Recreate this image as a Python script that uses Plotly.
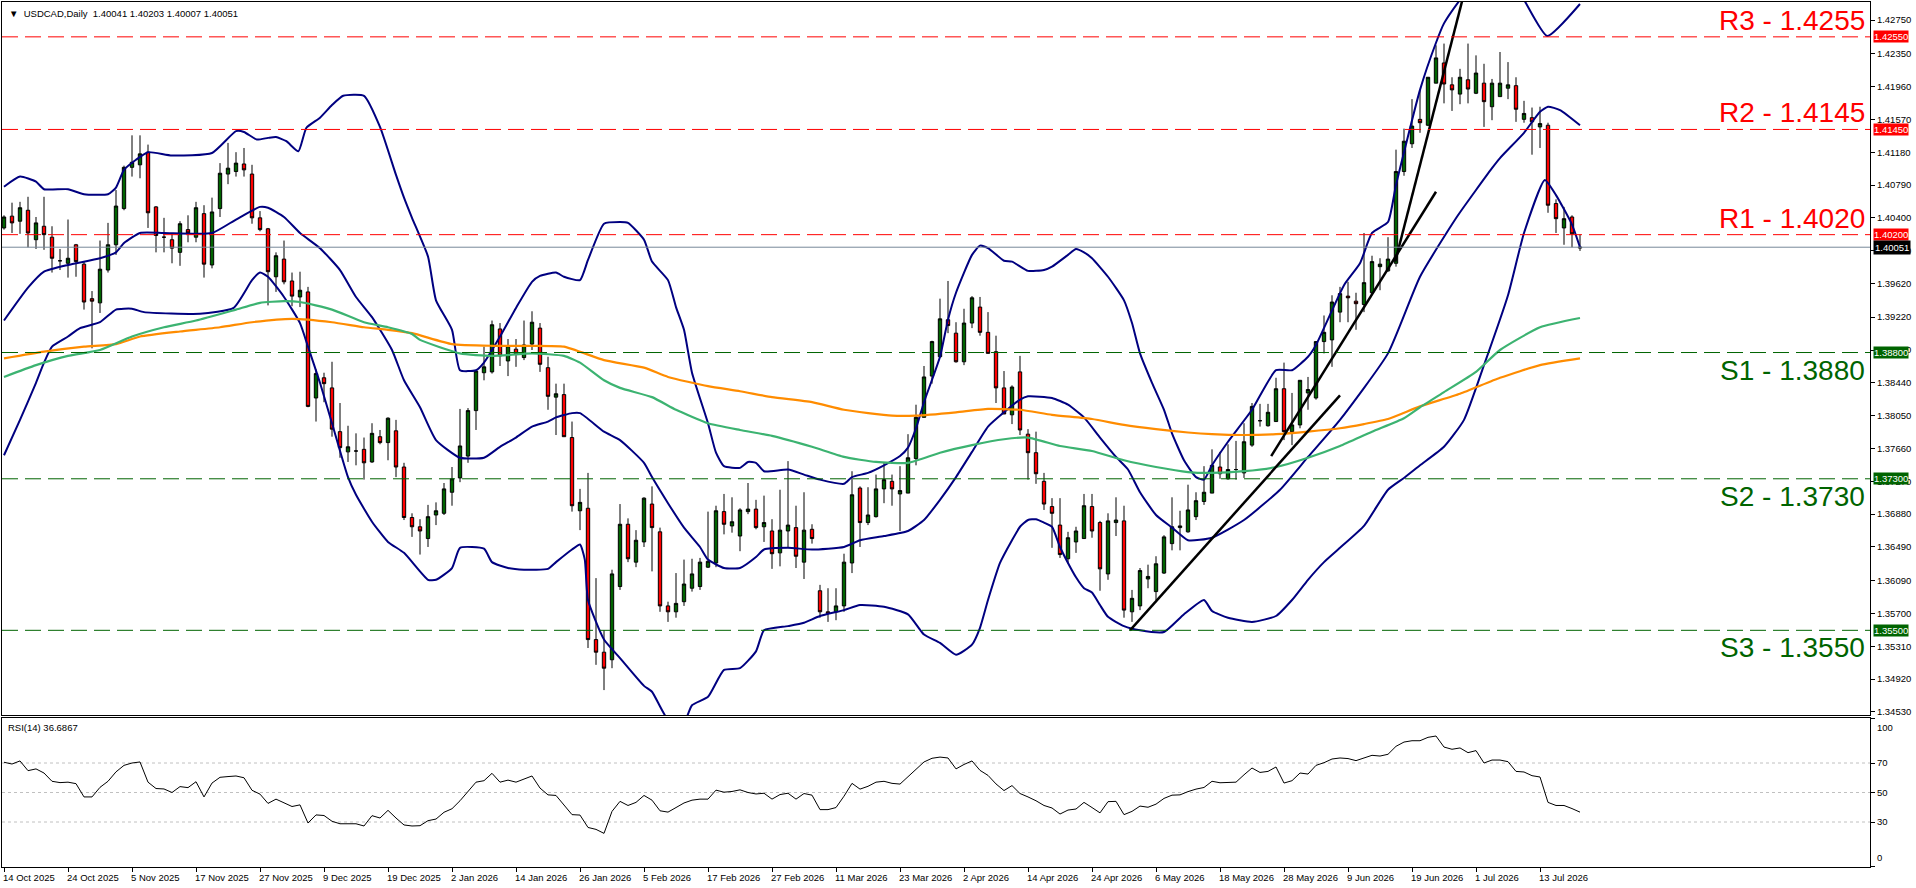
import plotly.graph_objects as go

# ---- daily USDCAD bars (index 0 = 14 Oct 2025) ----
bar_open = [1.4028, 1.4042, 1.4036, 1.4049, 1.4014, 1.4030, 1.4017, 1.3989, 1.3986, 1.4008,
            1.3985, 1.3944, 1.3939, 1.3978, 1.4008, 1.4051, 1.4100, 1.4103, 1.4118, 1.4053,
            1.4017, 1.4014, 1.3999, 1.4026, 1.4017, 1.4045, 1.3984, 1.4051, 1.4092, 1.4095,
            1.4104, 1.4092, 1.4040, 1.4027, 1.3970, 1.3991, 1.3965, 1.3946, 1.3952, 1.3826,
            1.3850, 1.3838, 1.3786, 1.3762, 1.3763, 1.3765, 1.3750, 1.3780, 1.3773, 1.3787,
            1.3744, 1.3684, 1.3673, 1.3659, 1.3687, 1.3689, 1.3714, 1.3731, 1.3757, 1.3811,
            1.3856, 1.3857, 1.3908, 1.3870, 1.3884, 1.3874, 1.3890, 1.3909, 1.3862, 1.3827,
            1.3830, 1.3779, 1.3692, 1.3695, 1.3539, 1.3524, 1.3515, 1.3602, 1.3676, 1.3631,
            1.3655, 1.3700, 1.3667, 1.3579, 1.3572, 1.3584, 1.3600, 1.3602, 1.3625, 1.3630,
            1.3691, 1.3674, 1.3662, 1.3691, 1.3694, 1.3673, 1.3668, 1.3642, 1.3668, 1.3672,
            1.3631, 1.3670, 1.3597, 1.3572, 1.3572, 1.3579, 1.3630, 1.3719, 1.3678, 1.3685,
            1.3718, 1.3727, 1.3712, 1.3713, 1.3754, 1.3803, 1.3852, 1.3875, 1.3919, 1.3903,
            1.3869, 1.3915, 1.3934, 1.3904, 1.3881, 1.3838, 1.3806, 1.3857, 1.3783, 1.3761,
            1.3727, 1.3697, 1.3675, 1.3635, 1.3655, 1.3659, 1.3697, 1.3678, 1.3617, 1.3678,
            1.3680, 1.3572, 1.3579, 1.3611, 1.3596, 1.3618, 1.3653, 1.3672, 1.3667, 1.3685,
            1.3703, 1.3713, 1.3744, 1.3730, 1.3741, 1.3737, 1.3770, 1.3799, 1.3793, 1.3798,
            1.3837, 1.3786, 1.3794, 1.3832, 1.3826, 1.3893, 1.3895, 1.3928, 1.3947, 1.3941,
            1.3937, 1.3951, 1.3982, 1.3977, 1.3986, 1.4095, 1.4128, 1.4157, 1.4150, 1.4200,
            1.4224, 1.4198, 1.4187, 1.4204, 1.4188, 1.4200, 1.4172, 1.4184, 1.4194, 1.4197,
            1.4157, 1.4159, 1.4148, 1.4150, 1.4057, 1.4028, 1.4041, 1.40041]
bar_high = [1.4043, 1.4058, 1.4059, 1.4065, 1.4041, 1.4065, 1.4030, 1.4003, 1.4038, 1.4009,
            1.3988, 1.3953, 1.4013, 1.4034, 1.4073, 1.4102, 1.4138, 1.4138, 1.4127, 1.4054,
            1.4040, 1.4022, 1.4036, 1.4043, 1.4059, 1.4055, 1.4064, 1.4105, 1.4129, 1.4118,
            1.4123, 1.4103, 1.4048, 1.4028, 1.3999, 1.4013, 1.3975, 1.3976, 1.3958, 1.3860,
            1.3856, 1.3869, 1.3820, 1.3793, 1.3784, 1.3779, 1.3796, 1.3788, 1.3803, 1.3800,
            1.3749, 1.3689, 1.3682, 1.3699, 1.3702, 1.3725, 1.3744, 1.3813, 1.3814, 1.3859,
            1.3887, 1.3918, 1.3915, 1.3896, 1.3896, 1.3918, 1.3929, 1.3915, 1.3875, 1.3843,
            1.3843, 1.3798, 1.3718, 1.3737, 1.3612, 1.3550, 1.3622, 1.3700, 1.3683, 1.3669,
            1.3708, 1.3721, 1.3672, 1.3584, 1.3618, 1.3634, 1.3635, 1.3636, 1.3691, 1.3698,
            1.3712, 1.3708, 1.3695, 1.3725, 1.3705, 1.3710, 1.3682, 1.3717, 1.3751, 1.3698,
            1.3714, 1.3676, 1.3604, 1.3600, 1.3600, 1.3641, 1.3739, 1.3721, 1.3720, 1.3735,
            1.3749, 1.3735, 1.3745, 1.3783, 1.3818, 1.3864, 1.3894, 1.3944, 1.3965, 1.3916,
            1.3932, 1.3947, 1.3946, 1.3928, 1.3900, 1.3858, 1.3841, 1.3876, 1.3789, 1.3786,
            1.3737, 1.3707, 1.3707, 1.3667, 1.3673, 1.3712, 1.3712, 1.3680, 1.3689, 1.3708,
            1.3698, 1.3598, 1.3624, 1.3628, 1.3638, 1.3663, 1.3708, 1.3692, 1.3723, 1.3714,
            1.3745, 1.3765, 1.3762, 1.3771, 1.3775, 1.3796, 1.3820, 1.3819, 1.3819, 1.3850,
            1.3868, 1.3832, 1.3847, 1.3851, 1.3893, 1.3924, 1.3948, 1.3958, 1.3964, 1.3951,
            1.4022, 1.3995, 1.3992, 1.4017, 1.4121, 1.4146, 1.4181, 1.4192, 1.4207, 1.4245,
            1.4247, 1.4207, 1.4217, 1.4247, 1.4233, 1.4223, 1.4205, 1.4237, 1.4225, 1.4207,
            1.4179, 1.4171, 1.4172, 1.4153, 1.4062, 1.4053, 1.4043, 1.40203]
bar_low = [1.4026, 1.4022, 1.4021, 1.4005, 1.4003, 1.4002, 1.3975, 1.3978, 1.3969, 1.3970,
           1.3931, 1.3885, 1.3927, 1.3975, 1.3996, 1.4049, 1.4089, 1.4087, 1.4028, 1.3999,
           1.3999, 1.3986, 1.3983, 1.4011, 1.4011, 1.3969, 1.3980, 1.4041, 1.4080, 1.4089,
           1.4089, 1.4033, 1.4024, 1.3936, 1.3952, 1.3961, 1.3935, 1.3934, 1.3815, 1.3798,
           1.3821, 1.3780, 1.3755, 1.3750, 1.3746, 1.3729, 1.3749, 1.3771, 1.3752, 1.3732,
           1.3681, 1.3661, 1.3640, 1.3649, 1.3675, 1.3687, 1.3698, 1.3726, 1.3749, 1.3788,
           1.3847, 1.3855, 1.3864, 1.3852, 1.3863, 1.3871, 1.3883, 1.3857, 1.3812, 1.3782,
           1.3780, 1.3691, 1.3669, 1.3529, 1.3509, 1.3479, 1.3505, 1.3598, 1.3631, 1.3625,
           1.3649, 1.3620, 1.3572, 1.3560, 1.3565, 1.3579, 1.3596, 1.3598, 1.3624, 1.3625,
           1.3664, 1.3666, 1.3644, 1.3688, 1.3670, 1.3655, 1.3623, 1.3626, 1.3649, 1.3624,
           1.3611, 1.3653, 1.3565, 1.3560, 1.3562, 1.3572, 1.3618, 1.3649, 1.3675, 1.3684,
           1.3701, 1.3698, 1.3668, 1.3713, 1.3746, 1.3803, 1.3843, 1.3874, 1.3903, 1.3868,
           1.3865, 1.3909, 1.3900, 1.3879, 1.3820, 1.3807, 1.3795, 1.3782, 1.3729, 1.3724,
           1.3693, 1.3648, 1.3636, 1.3629, 1.3642, 1.3659, 1.3660, 1.3597, 1.3610, 1.3662,
           1.3565, 1.3560, 1.3574, 1.3600, 1.3586, 1.3617, 1.3645, 1.3645, 1.3666, 1.3681,
           1.3699, 1.3713, 1.3730, 1.3729, 1.3729, 1.3731, 1.3768, 1.3792, 1.3792, 1.3798,
           1.3776, 1.3770, 1.3790, 1.3812, 1.3824, 1.3879, 1.3863, 1.3916, 1.3916, 1.3907,
           1.3928, 1.3948, 1.3954, 1.3976, 1.3982, 1.4090, 1.4123, 1.4141, 1.4149, 1.4200,
           1.4176, 1.4167, 1.4175, 1.4176, 1.4187, 1.4148, 1.4156, 1.4184, 1.4181, 1.4154,
           1.4153, 1.4115, 1.4123, 1.4046, 1.4022, 1.4008, 1.4005, 1.40007]
bar_close = [1.4041, 1.4034, 1.4052, 1.4022, 1.4034, 1.4020, 1.3992, 1.3989, 1.3992, 1.3988,
             1.3940, 1.3941, 1.3979, 1.4008, 1.4054, 1.4100, 1.4106, 1.4116, 1.4046, 1.4019,
             1.4017, 1.4004, 1.4033, 1.4022, 1.4052, 1.3985, 1.4047, 1.4093, 1.4099, 1.4105,
             1.4097, 1.4040, 1.4026, 1.3976, 1.3995, 1.3964, 1.3947, 1.3954, 1.3816, 1.3855,
             1.3843, 1.3789, 1.3767, 1.3768, 1.3763, 1.3749, 1.3784, 1.3773, 1.3802, 1.3744,
             1.3684, 1.3673, 1.3668, 1.3685, 1.3692, 1.3718, 1.3730, 1.3769, 1.3811, 1.3858,
             1.3863, 1.3913, 1.3876, 1.3888, 1.3878, 1.3889, 1.3916, 1.3866, 1.3828, 1.3831,
             1.3780, 1.3698, 1.3702, 1.3539, 1.3524, 1.3505, 1.3617, 1.3676, 1.3635, 1.3657,
             1.3707, 1.3672, 1.3579, 1.3572, 1.3582, 1.3605, 1.3617, 1.3631, 1.3632, 1.3692,
             1.3676, 1.3679, 1.3693, 1.3694, 1.3672, 1.3678, 1.3641, 1.3669, 1.3675, 1.3638,
             1.3669, 1.3659, 1.3572, 1.3570, 1.3579, 1.3631, 1.3711, 1.3678, 1.3687, 1.3718,
             1.3729, 1.3718, 1.3716, 1.3755, 1.3803, 1.3851, 1.3893, 1.3920, 1.3912, 1.3869,
             1.3915, 1.3945, 1.3904, 1.3879, 1.3838, 1.3807, 1.3839, 1.3788, 1.3761, 1.3736,
             1.3700, 1.3689, 1.3640, 1.3660, 1.3668, 1.3698, 1.3668, 1.3623, 1.3680, 1.3681,
             1.3574, 1.3588, 1.3621, 1.3614, 1.3629, 1.3661, 1.3673, 1.3674, 1.3693, 1.3704,
             1.3714, 1.3746, 1.3736, 1.3741, 1.3741, 1.3774, 1.3816, 1.3799, 1.3809, 1.3837,
             1.3786, 1.3794, 1.3847, 1.3836, 1.3893, 1.3904, 1.3940, 1.3950, 1.3945, 1.3938,
             1.3963, 1.3988, 1.3985, 1.3991, 1.4095, 1.4131, 1.4149, 1.4153, 1.4207, 1.4230,
             1.4199, 1.4192, 1.4207, 1.4193, 1.4212, 1.4178, 1.4200, 1.4200, 1.4198, 1.4169,
             1.4164, 1.4154, 1.4152, 1.4055, 1.4039, 1.4039, 1.4021, 1.40051]

rsi14 = [70.5, 69.3, 71.4, 64.8, 66, 63.2, 57.6, 56.7, 57, 56,
         47, 47, 53.5, 57.6, 64, 68.4, 70, 70.7, 57, 52.7,
         52.4, 50, 54, 53.3, 57.3, 47, 56.4, 60.3, 60.8, 61.2,
         60, 51.5, 48.9, 42.6, 45.5, 42.8, 40.5, 41.6, 29.3, 34.8,
         34.4, 30.5, 28.8, 28.8, 28.8, 27.3, 34.3, 32.7, 37.9, 32.7,
         28, 27.3, 27.5, 30.9, 32, 36.6, 39, 44.4, 50.7, 57,
         58, 63, 57, 58.4, 57, 58.9, 61.2, 53, 48.4, 48,
         41.6, 35, 34.7, 26.3, 25, 22.3, 37.2, 44, 41.2, 43.3,
         48, 44.8, 37.6, 36.7, 39.8, 42.9, 44.8, 45.5, 45.5, 51.6,
         50.2, 50.7, 51.8, 50, 49, 49.5, 45.5, 48.6, 49.5, 45.5,
         49.3, 48.2, 38.4, 38.4, 39.8, 47.5, 56.2, 52.3, 54.2, 57,
         57.6, 56.2, 55.7, 60.8, 66, 70.7, 73.2, 74, 73.4, 66,
         69, 71.4, 65, 61.6, 55.8, 51.3, 54.7, 49.3, 47, 44.4,
         41.2, 39.5, 35.4, 38.1, 38.8, 43.3, 39.8, 36.2, 43.8, 44,
         35, 37.2, 40.8, 40, 42.1, 46, 48.2, 48.4, 50.6, 52.3,
         53.4, 57.6, 56.6, 56.8, 57, 62, 66.6, 63.6, 64.3, 67.3,
         56.4, 58, 63.2, 62.5, 68.4, 70.2, 72.7, 73.4, 73, 71.6,
         73.4, 75.2, 74.7, 75.9, 81.3, 84.2, 85.1, 85.1, 87.4, 88.3,
         80.8, 79.3, 80.2, 77, 78.4, 70, 72, 72, 70.9, 64.3,
         63.9, 61.4, 60.5, 43.3, 41.2, 41.2, 39.1, 36.6867]

# ---- Bollinger bands (20) ----
bb_up_bar = [0, 2, 4, 5, 8, 10, 13, 14, 15, 16.5, 18, 21, 26, 29, 30, 31.6, 33, 34, 35.3, 36.8,
             37.8, 39.5, 41, 42.4, 45, 47, 49, 50, 51, 53, 54, 56, 57, 59, 60, 62, 64, 66, 67, 69,
             70, 72, 73, 75, 77, 78, 80, 81, 83, 84, 85, 86, 88, 89, 90, 92, 93, 94, 95, 98,
             100, 102, 105, 106, 108, 110, 112, 113, 114, 115, 117, 118, 119, 121, 122, 123, 125, 126, 128, 130,
             131, 133, 134, 135, 136, 138, 140, 141, 142, 143.5, 145, 146, 147.5, 149, 150, 151, 153, 156, 159, 161,
             163, 164, 167.5, 169.5, 171, 173, 174, 177, 179, 180, 182, 184, 186, 188, 190, 192.9, 197]
bb_up = [1.4077, 1.4089, 1.4083, 1.4074, 1.4074, 1.4068, 1.4068, 1.4076, 1.4097, 1.4109,
         1.4118, 1.4114, 1.4117, 1.4143, 1.4142, 1.4133, 1.4135, 1.4136, 1.4131, 1.4119,
         1.4147, 1.4159, 1.4174, 1.4185, 1.4185, 1.4148, 1.4091, 1.4064, 1.4040, 1.3994,
         1.3942, 1.3907, 1.3859, 1.3859, 1.3868, 1.3899, 1.3933, 1.3964, 1.3971, 1.3975,
         1.3970, 1.3966, 1.3990, 1.4033, 1.4035, 1.4034, 1.4014, 1.3988, 1.3966, 1.3934,
         1.3907, 1.3856, 1.3796, 1.3761, 1.3745, 1.3743, 1.3750, 1.3749, 1.3739, 1.3741,
         1.3735, 1.3729, 1.3724, 1.3732, 1.3737, 1.3746, 1.3757, 1.3767, 1.3790, 1.3821,
         1.3875, 1.3919, 1.3951, 1.3996, 1.4007, 1.4004, 1.3989, 1.3988, 1.3977, 1.3978,
         1.3982, 1.3996, 1.4003, 1.3999, 1.3992, 1.3970, 1.3942, 1.3915, 1.3879, 1.3844,
         1.3812, 1.3784, 1.3752, 1.3732, 1.3729, 1.3746, 1.3774, 1.3812, 1.3859, 1.3859,
         1.3875, 1.3889, 1.3960, 1.3986, 1.4022, 1.4035, 1.4079, 1.4192, 1.4248, 1.4271,
         1.4299, 1.4323, 1.4334, 1.4329, 1.4299, 1.4256, 1.4294]
bb_mid_bar = [0, 3, 5, 8, 12, 14, 15, 17, 20, 26, 29, 32, 33, 35, 37, 39.5, 42, 44, 46, 48.5,
              50, 52, 54, 57, 60, 62, 64, 66, 68, 69, 71, 72, 75, 77, 80, 81, 83, 85, 87, 88,
              90, 92, 94, 95, 98, 101, 105, 107, 110, 113, 115, 117, 119, 121, 123, 125, 127, 128, 131, 133,
              135, 137, 139, 140.5, 142, 144, 146, 148, 151, 155, 159.5, 163, 167, 173, 177, 181.6, 186, 187, 190, 192,
              193, 194.5, 197]
bb_mid = [1.3918, 1.3957, 1.3976, 1.3984, 1.3992, 1.3999, 1.4010, 1.4022, 1.4022, 1.4022,
          1.4038, 1.4053, 1.4052, 1.4041, 1.4022, 1.4004, 1.3978, 1.3946, 1.3922, 1.3883,
          1.3847, 1.3815, 1.3776, 1.3755, 1.3755, 1.3768, 1.3779, 1.3792, 1.3798, 1.3803,
          1.3808, 1.3808, 1.3786, 1.3776, 1.3749, 1.3732, 1.3701, 1.3672, 1.3649, 1.3634,
          1.3624, 1.3624, 1.3637, 1.3646, 1.3648, 1.3646, 1.3649, 1.3657, 1.3662, 1.3668,
          1.3681, 1.3705, 1.3732, 1.3762, 1.3792, 1.3809, 1.3824, 1.3828, 1.3826, 1.3818,
          1.3803, 1.3779, 1.3756, 1.3741, 1.3714, 1.3687, 1.3672, 1.3657, 1.3660, 1.3681,
          1.3717, 1.3756, 1.3800, 1.3879, 1.3970, 1.4041, 1.4099, 1.4111, 1.4141, 1.4166,
          1.4172, 1.4168, 1.4150]
bb_low_bar = [0, 2, 4, 5, 6, 8, 9.5, 12, 14, 16, 17.5, 24.5, 28.7, 31, 32, 33, 35, 37, 38, 39.5,
              41, 43, 44, 46, 48, 50, 53, 54, 56, 57, 60, 61, 63, 65, 68, 69, 71, 72, 72.6, 73,
              75, 77, 80, 81, 83, 85, 86, 88, 90, 92, 94, 95, 98, 100, 102, 105, 107, 110, 113, 115,
              117, 119, 121, 122, 123, 124.5, 126, 127, 128, 129, 130, 131, 132, 133, 134, 135, 136, 137, 138, 140,
              142, 145, 147.5, 150, 151, 153, 156, 159, 161, 163, 165, 167, 170, 173, 175, 177, 180, 182.5, 185, 188,
              190, 192.6, 194, 196, 197]
bb_low = [1.3758, 1.3800, 1.3844, 1.3868, 1.3887, 1.3899, 1.3909, 1.3916, 1.3931, 1.3932,
          1.3928, 1.3926, 1.3933, 1.3966, 1.3975, 1.3970, 1.3946, 1.3915, 1.3887, 1.3844,
          1.3796, 1.3732, 1.3711, 1.3679, 1.3655, 1.3642, 1.3610, 1.3610, 1.3624, 1.3648,
          1.3647, 1.3631, 1.3624, 1.3622, 1.3623, 1.3631, 1.3646, 1.3652, 1.3634, 1.3586,
          1.3539, 1.3517, 1.3484, 1.3477, 1.3444, 1.3441, 1.3461, 1.3471, 1.3503, 1.3505,
          1.3525, 1.3550, 1.3555, 1.3559, 1.3567, 1.3574, 1.3580, 1.3578, 1.3569, 1.3545,
          1.3535, 1.3521, 1.3533, 1.3553, 1.3586, 1.3630, 1.3657, 1.3673, 1.3681, 1.3682,
          1.3678, 1.3673, 1.3649, 1.3630, 1.3613, 1.3600, 1.3595, 1.3580, 1.3566, 1.3555,
          1.3550, 1.3548, 1.3569, 1.3586, 1.3573, 1.3565, 1.3560, 1.3567, 1.3586, 1.3610,
          1.3631, 1.3648, 1.3674, 1.3717, 1.3731, 1.3746, 1.3768, 1.3800, 1.3865, 1.3948,
          1.4022, 1.4085, 1.4067, 1.4032, 1.4005]

# ---- moving averages ----
ma_slow_bar = [0, 5, 10, 14, 17, 22, 27, 31, 36, 41, 45, 48, 51, 56, 61, 66, 70, 75, 80, 83,
               88, 92, 96, 101, 105, 111, 114, 119, 123, 127, 131, 136, 140, 144, 148, 151, 155, 159, 163, 167,
               170, 173, 177, 182, 187, 192, 197]
ma_slow = [1.3873, 1.3881, 1.3887, 1.3890, 1.3899, 1.3905, 1.3910, 1.3916, 1.3920, 1.3916,
           1.3910, 1.3907, 1.3903, 1.3890, 1.3888, 1.3888, 1.3887, 1.3871, 1.3862, 1.3851,
           1.3840, 1.3834, 1.3827, 1.3821, 1.3812, 1.3805, 1.3805, 1.3809, 1.3813, 1.3812,
           1.3806, 1.3801, 1.3794, 1.3789, 1.3785, 1.3783, 1.3782, 1.3783, 1.3786, 1.3790,
           1.3795, 1.3801, 1.3816, 1.3831, 1.3850, 1.3865, 1.3873]
ma_fast_bar = [0, 4, 8, 12, 16, 20, 24, 29, 32, 35, 37, 41, 45, 48, 51, 52, 57, 61, 66, 70,
               72, 75, 77, 81, 84, 88, 92, 96, 101, 105, 109, 113, 117, 121, 125, 128, 132, 136, 140, 144,
               148, 151, 155, 159, 163, 167, 171, 175, 177, 180, 184, 187, 192, 197]
ma_fast = [1.3851, 1.3865, 1.3876, 1.3883, 1.3899, 1.3910, 1.3918, 1.3931, 1.3939, 1.3941,
           1.3940, 1.3931, 1.3916, 1.3910, 1.3902, 1.3895, 1.3879, 1.3876, 1.3879, 1.3876,
           1.3868, 1.3847, 1.3838, 1.3827, 1.3812, 1.3796, 1.3788, 1.3781, 1.3768, 1.3756,
           1.3750, 1.3749, 1.3761, 1.3770, 1.3777, 1.3779, 1.3769, 1.3763, 1.3752, 1.3744,
           1.3738, 1.3737, 1.3739, 1.3744, 1.3755, 1.3769, 1.3786, 1.3802, 1.3815, 1.3833,
           1.3857, 1.3883, 1.3910, 1.3921]

# ---- hand-drawn trendlines (start bar/price, end bar/price) ----
trend_bars = [[140.75, 167], [158.4, 179], [173.9, 182.6]]
trend_prices = [[1.3550, 1.3829], [1.3757, 1.4071], [1.3988, 1.4310]]

# ---- support / resistance ----
level_names = ["R3", "R2", "R1", "S1", "S2", "S3"]
level_prices = [1.4255, 1.4145, 1.4020, 1.3880, 1.3730, 1.3550]
last_price = 1.40051

price_ticks = [1.4275, 1.4235, 1.4196, 1.4157, 1.4118, 1.4079, 1.4040, 1.4001, 1.3962, 1.3922, 1.3883,
               1.3844, 1.3805, 1.3766, 1.3727, 1.3688, 1.3649, 1.3609, 1.3570, 1.3531, 1.3492, 1.3453]
rsi_ticks = [0, 30, 50, 70, 100]
date_labels = ["14 Oct 2025", "24 Oct 2025", "5 Nov 2025", "17 Nov 2025", "27 Nov 2025", "9 Dec 2025",
               "19 Dec 2025", "2 Jan 2026", "14 Jan 2026", "26 Jan 2026", "5 Feb 2026", "17 Feb 2026",
               "27 Feb 2026", "11 Mar 2026", "23 Mar 2026", "2 Apr 2026", "14 Apr 2026", "24 Apr 2026",
               "6 May 2026", "18 May 2026", "28 May 2026", "9 Jun 2026", "19 Jun 2026", "1 Jul 2026",
               "13 Jul 2026"]

bars = list(range(len(bar_close)))
date_ticks = [8 * k for k in range(len(date_labels))]

RED = "#FF0000"
GREEN = "#006400"
NAVY = "#000080"
FONT = "Liberation Sans, Arial, sans-serif"

fig = go.Figure()

fig.add_trace(go.Candlestick(
    x=bars, open=bar_open, high=bar_high, low=bar_low, close=bar_close,
    increasing=dict(line=dict(color="black", width=1), fillcolor=GREEN),
    decreasing=dict(line=dict(color="black", width=1), fillcolor=RED),
    whiskerwidth=0, hoverinfo="skip", xaxis="x", yaxis="y"))

for xs, ys in [(bb_up_bar, bb_up), (bb_mid_bar, bb_mid), (bb_low_bar, bb_low)]:
    fig.add_trace(go.Scatter(x=xs, y=ys, mode="lines", hoverinfo="skip",
                             line=dict(color=NAVY, width=2, shape="spline", smoothing=0.5),
                             xaxis="x", yaxis="y"))

fig.add_trace(go.Scatter(x=ma_slow_bar, y=ma_slow, mode="lines", hoverinfo="skip",
                         line=dict(color="#FF8C00", width=2.2, shape="spline", smoothing=0.5)))
fig.add_trace(go.Scatter(x=ma_fast_bar, y=ma_fast, mode="lines", hoverinfo="skip",
                         line=dict(color="#3CB371", width=2.2, shape="spline", smoothing=0.5)))

for xs, ys in zip(trend_bars, trend_prices):
    fig.add_trace(go.Scatter(x=xs, y=ys, mode="lines", hoverinfo="skip",
                             line=dict(color="black", width=2.5)))

fig.add_trace(go.Scatter(x=bars, y=rsi14, mode="lines", hoverinfo="skip",
                         line=dict(color="black", width=1), xaxis="x2", yaxis="y2"))

# horizontal levels
for name, p in zip(level_names, level_prices):
    col = RED if name.startswith("R") else GREEN
    fig.add_shape(type="line", xref="x domain", yref="y", x0=0, x1=1, y0=p, y1=p,
                  line=dict(color=col, width=1, dash="16px,7px"), layer="above")
    fig.add_annotation(xref="paper", yref="y", x=1, y=p, xanchor="right",
                       yanchor="bottom" if name.startswith("R") else "top",
                       xshift=-3, yshift=-1 if name.startswith("R") else 0,
                       text=f"{name} - {p:.4f}", showarrow=False,
                       font=dict(family=FONT, size=28, color=col))
    fig.add_annotation(xref="paper", yref="y", x=1, y=p, xanchor="left", yanchor="middle",
                       xshift=3, text=f"{p:.5f}", showarrow=False, bgcolor=col, borderpad=0,
                       font=dict(family=FONT, size=9.5, color="white"))

fig.add_shape(type="line", xref="x domain", yref="y", x0=0, x1=1, y0=last_price, y1=last_price,
              line=dict(color="#778899", width=1), layer="above")
fig.add_annotation(xref="paper", yref="y", x=1, y=last_price, xanchor="left", yanchor="middle",
                   xshift=3, text=f"{last_price:.5f}", showarrow=False, bgcolor="black", borderpad=1,
                   font=dict(family=FONT, size=9.5, color="white"))

# RSI levels
for lv in [70, 50, 30]:
    fig.add_shape(type="line", xref="x2 domain", yref="y2", x0=0, x1=1, y0=lv, y1=lv,
                  line=dict(color="#C0C0C0", width=1, dash="3px,3px"), layer="below")

# RSI end labels sit inside the pane, as MT4 draws them
fig.add_annotation(xref="paper", yref="y2", x=1, y=rsi_ticks[-1], xanchor="left", yanchor="top",
                   xshift=5, yshift=-1, showarrow=False, text=str(rsi_ticks[-1]),
                   font=dict(family=FONT, size=9.5, color="black"))
fig.add_annotation(xref="paper", yref="y2", x=1, y=rsi_ticks[0], xanchor="left", yanchor="bottom",
                   xshift=5, yshift=1, showarrow=False, text=str(rsi_ticks[0]),
                   font=dict(family=FONT, size=9.5, color="black"))

# header texts
fig.add_annotation(xref="paper", yref="paper", x=0, y=1, xanchor="left", yanchor="top",
                   xshift=5, yshift=-4, showarrow=False,
                   text="▼  USDCAD,Daily  %.5f %.5f %.5f %.5f" % (bar_open[-1], bar_high[-1], bar_low[-1], bar_close[-1]),
                   font=dict(family=FONT, size=9.5, color="black"))
fig.add_annotation(xref="paper", yref="y2 domain", x=0, y=1, xanchor="left", yanchor="top",
                   xshift=4, yshift=-2, showarrow=False,
                   text="RSI(14) %.4f" % rsi14[-1], font=dict(family=FONT, size=9.5, color="black"))

# date labels, MT4-style (text starts at the tick)
for t, lab in zip(date_ticks, date_labels):
    fig.add_annotation(xref="x2", yref="paper", x=t, y=0, xanchor="left", yanchor="top",
                       xshift=-3, yshift=-3, showarrow=False, text=lab,
                       font=dict(family=FONT, size=9.5, color="black"))

main_bottom = 152 / 865
rsi_top = 149 / 865
xr = [-0.25, 233.25]

fig.update_layout(
    width=1916, height=888,
    margin=dict(l=2, r=46, t=2, b=21),
    paper_bgcolor="white", plot_bgcolor="white",
    showlegend=False, hovermode=False, boxgap=0.4,
    font=dict(family=FONT, size=9.5, color="black"),
    xaxis=dict(domain=[0, 1], range=xr, anchor="y", rangeslider=dict(visible=False),
               showticklabels=False, ticks="", showline=True, linecolor="black", linewidth=1,
               mirror=True, showgrid=False, zeroline=False),
    yaxis=dict(domain=[main_bottom, 1], range=[1.34494, 1.42964], side="right", anchor="x",
               tickvals=price_ticks, ticktext=["%.5f" % v for v in price_ticks],
               ticks="outside", ticklen=4, tickcolor="black", showline=True, linecolor="black",
               mirror=True, showgrid=False, zeroline=False),
    xaxis2=dict(domain=[0, 1], range=xr, anchor="y2", matches="x", tickvals=date_ticks,
                ticks="outside", ticklen=4, tickcolor="black", showticklabels=False,
                showline=True, linecolor="black", mirror=True, showgrid=False, zeroline=False),
    yaxis2=dict(domain=[0, rsi_top], range=[-0.5, 100.5], side="right", anchor="x2",
                tickvals=rsi_ticks, ticktext=["", "30", "50", "70", ""],
                ticks="outside", ticklen=4, tickcolor="black",
                showline=True, linecolor="black", mirror=True, showgrid=False, zeroline=False),
)

fig.write_html("out.html", config={"displayModeBar": False},
               post_script="document.body.style.margin='0';")
